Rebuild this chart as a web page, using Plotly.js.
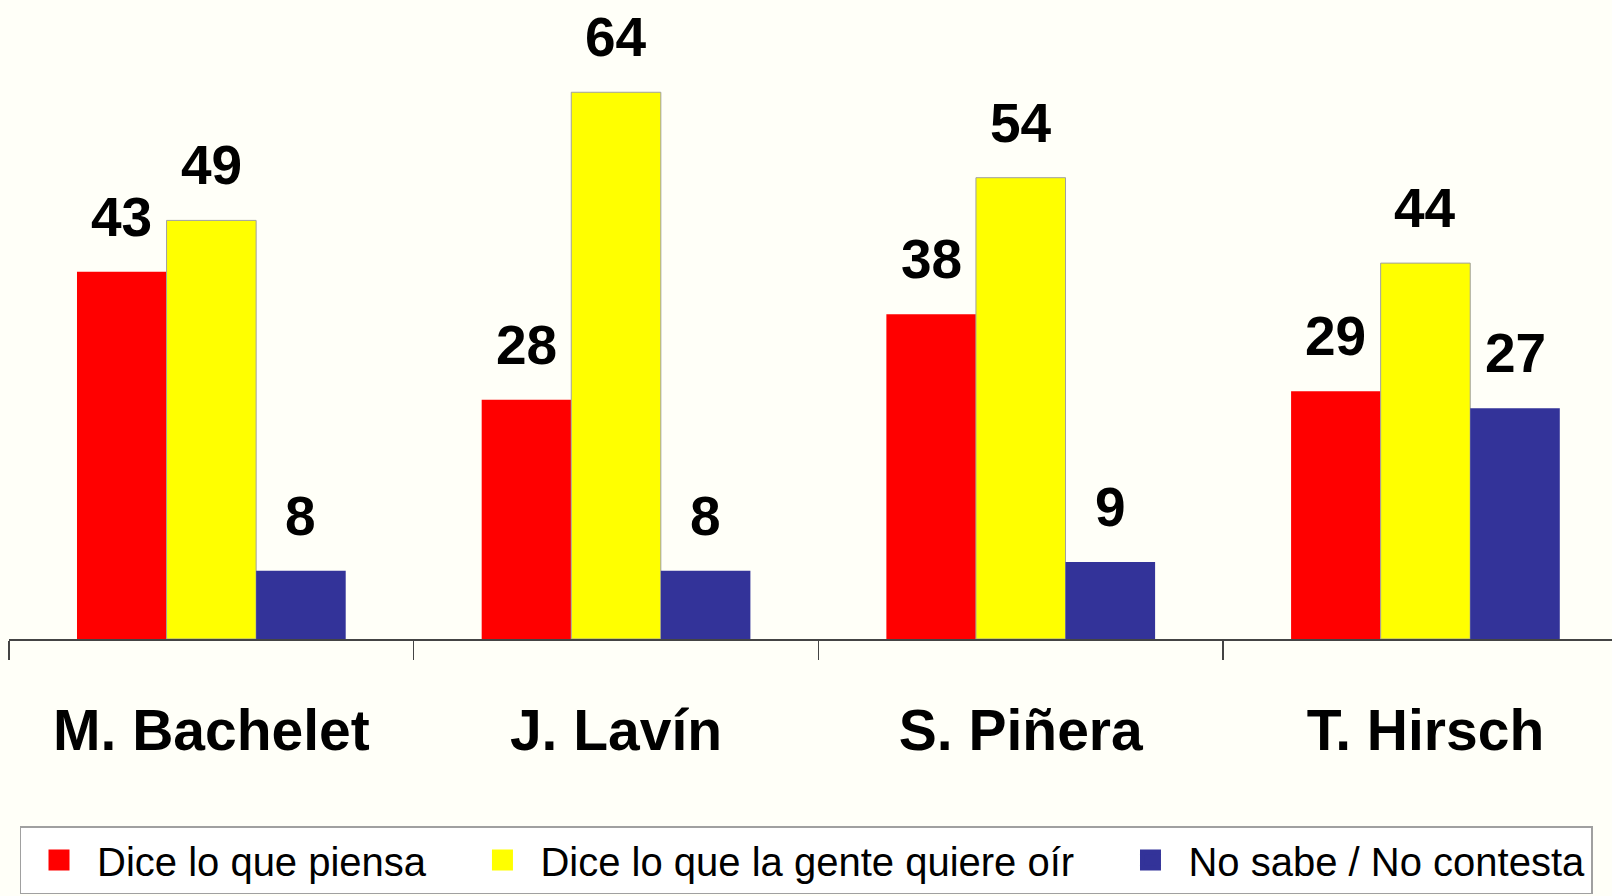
<!DOCTYPE html>
<html>
<head>
<meta charset="utf-8">
<script src="https://cdn.plot.ly/plotly-3.0.1.min.js"></script>
<style>html,body{margin:0;padding:0;background:#FFFFF8;}#chart{width:1612px;height:896px;}</style>
</head>
<body>
<div id="chart"></div>
<script>
const categories = ["M. Bachelet", "J. Lavín", "S. Piñera", "T. Hirsch"];
const seriesNames = ["Dice lo que piensa", "Dice lo que la gente quiere oír", "No sabe / No contesta"];
const dicePiensa = [43, 28, 38, 29];
const diceQuiereOir = [49, 64, 54, 44];
const noSabe = [8, 8, 9, 27];

const seriesValues = [dicePiensa, diceQuiereOir, noSabe];
const colors = ["#FF0000", "#FFFF00", "#333399"];
const lineColors = ["#FF0000", "#A0A0A0", "#333399"];
const lineWidths = [0, 1, 0];
const nb = "\u00a0";
const pad = [nb.repeat(3), nb.repeat(3), ""];

const bargap = 0.336;
const barW = (1 - bargap) / 3;

const barTraces = seriesValues.map((vals, k) => ({
  type: "bar",
  name: seriesNames[k],
  x: categories,
  y: vals,
  showlegend: false,
  marker: {color: colors[k], line: {color: lineColors[k], width: lineWidths[k]}},
  hoverinfo: "skip"
}));

// legend entries (larger square keys)
const legendTraces = seriesNames.map((n, k) => ({
  type: "scatter",
  mode: "markers",
  name: n + pad[k],
  x: [null], y: [null],
  showlegend: true,
  marker: {symbol: "square", size: 16, color: colors[k], line: {color: colors[k], width: 5}},
  hoverinfo: "skip"
}));

const annotations = [];
seriesValues.forEach((vals, k) => {
  vals.forEach((v, i) => {
    annotations.push({
      x: i + (k - 1) * barW,
      y: v,
      xref: "x", yref: "y",
      text: String(v),
      showarrow: false,
      yanchor: "bottom",
      yshift: 22,
      font: {family: "Liberation Sans, Arial, sans-serif", size: 55, color: "#000", weight: "bold"}
    });
  });
});

const layout = {
  width: 1612, height: 896,
  paper_bgcolor: "#FFFFF8",
  plot_bgcolor: "#FFFFF8",
  margin: {l: 9, r: 0, t: 0, b: 257},
  barmode: "group",
  bargap: bargap,
  bargroupgap: 0,
  showlegend: true,
  font: {family: "Liberation Sans, Arial, sans-serif", color: "#000"},
  xaxis: {
    type: "category",
    range: [-0.5, 3.461],
    showline: true, linecolor: "#444", linewidth: 1.5,
    ticks: "outside", tickson: "boundaries", ticklen: 19, tickcolor: "#444", tickwidth: 1.5,
    ticklabelstandoff: 41,
    tickfont: {family: "Liberation Sans, Arial, sans-serif", size: 57, color: "#000", weight: "bold"},
    showgrid: false, zeroline: false, fixedrange: true
  },
  yaxis: {range: [0, 74.8], visible: false, showgrid: false, zeroline: false, fixedrange: true},
  legend: {
    orientation: "h",
    x: (19.5 - 9) / 1603, xanchor: "left",
    y: (639 - 826) / 639, yanchor: "top",
    itemwidth: 66,
    font: {family: "Liberation Sans, Arial, sans-serif", size: 40, color: "#000"},
    bgcolor: "#FFFFFF", bordercolor: "#A0A0A0", borderwidth: 1.5,
    traceorder: "normal"
  },
  annotations: annotations
};

Plotly.newPlot("chart", barTraces.concat(legendTraces), layout, {staticPlot: true, displayModeBar: false});
</script>
</body>
</html>
